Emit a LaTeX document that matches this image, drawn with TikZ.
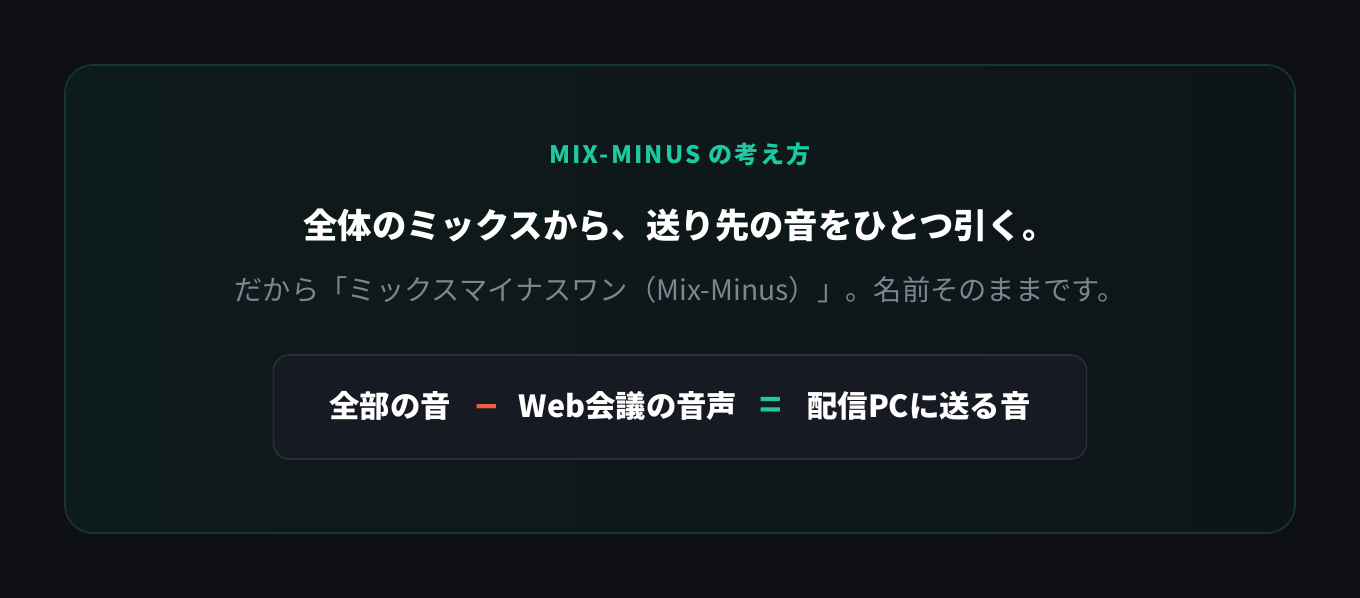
\documentclass[tikz,border=0pt]{standalone}
\usepackage{fontspec}
\setmainfont{Noto Sans CJK JP}
\newfontfamily\capfont[LetterSpace=9]{Noto Sans CJK JP}
\newfontfamily\opfont{Liberation Sans}
\usetikzlibrary{positioning}
\definecolor{pagebg}{HTML}{0F1014}
\definecolor{cardleft}{HTML}{0E1B1B}
\definecolor{cardright}{HTML}{0E1518}
\definecolor{cardline}{HTML}{15382F}
\definecolor{accent}{HTML}{1DC9A0}
\definecolor{subgray}{HTML}{7D8591}
\definecolor{eqfill}{HTML}{171A22}
\definecolor{eqline}{HTML}{2A2E36}
\definecolor{minusred}{HTML}{F0603F}

\begin{document}
\begin{tikzpicture}[x=0.75pt,y=-0.75pt]
    \tikzstyle{card}=[rounded corners=21pt, draw=cardline, line width=1.2pt]
    \tikzstyle{eqbox}=[rounded corners=12pt, draw=eqline, line width=1.2pt, fill=eqfill,
        minimum width=610pt, minimum height=78pt, inner sep=0pt]
    \tikzstyle{title}=[text=accent, font=\capfont\bfseries\fontsize{18}{20}\selectfont]
    \tikzstyle{heading}=[text=white, font=\bfseries\fontsize{25.8}{30}\selectfont]
    \tikzstyle{sub}=[text=subgray, font=\fontsize{21.2}{25}\selectfont]
    \tikzstyle{term}=[text=white, font=\bfseries\fontsize{22.8}{27}\selectfont, inner sep=0pt]
    \tikzstyle{op}=[term, font=\opfont\bfseries\fontsize{29}{30}\selectfont]

    % Draw the background and the card
    \fill[pagebg] (0,0) rectangle (1360,598);
    \shade[card, left color=cardleft, right color=cardright] (65,65) rectangle (1295,533);

    % Draw the texts
    \node[title] (title) at (680,154) {MIX-MINUS の考え方};
    \node[heading] (head) at (680,225) {全体のミックスから、送り先の音をひとつ引く。};
    \node[sub] (sub) at (680,290) {だから「ミックスマイナスワン（Mix-Minus）」。名前そのままです。};

    % Draw the equation
    \node[eqbox] (eq) at (680,407) {};
    \node[term] (all) at (390,406) {全部の音};
    \node[op, text=minusred] (minus) at (487,412) {−};
    \node[term] (web) at (628,406) {Web会議の音声};
    \node[op, text=accent] (equals) at (771,407) {=};
    \node[term] (pc) at (919,406) {配信PCに送る音};
\end{tikzpicture}
\end{document}
